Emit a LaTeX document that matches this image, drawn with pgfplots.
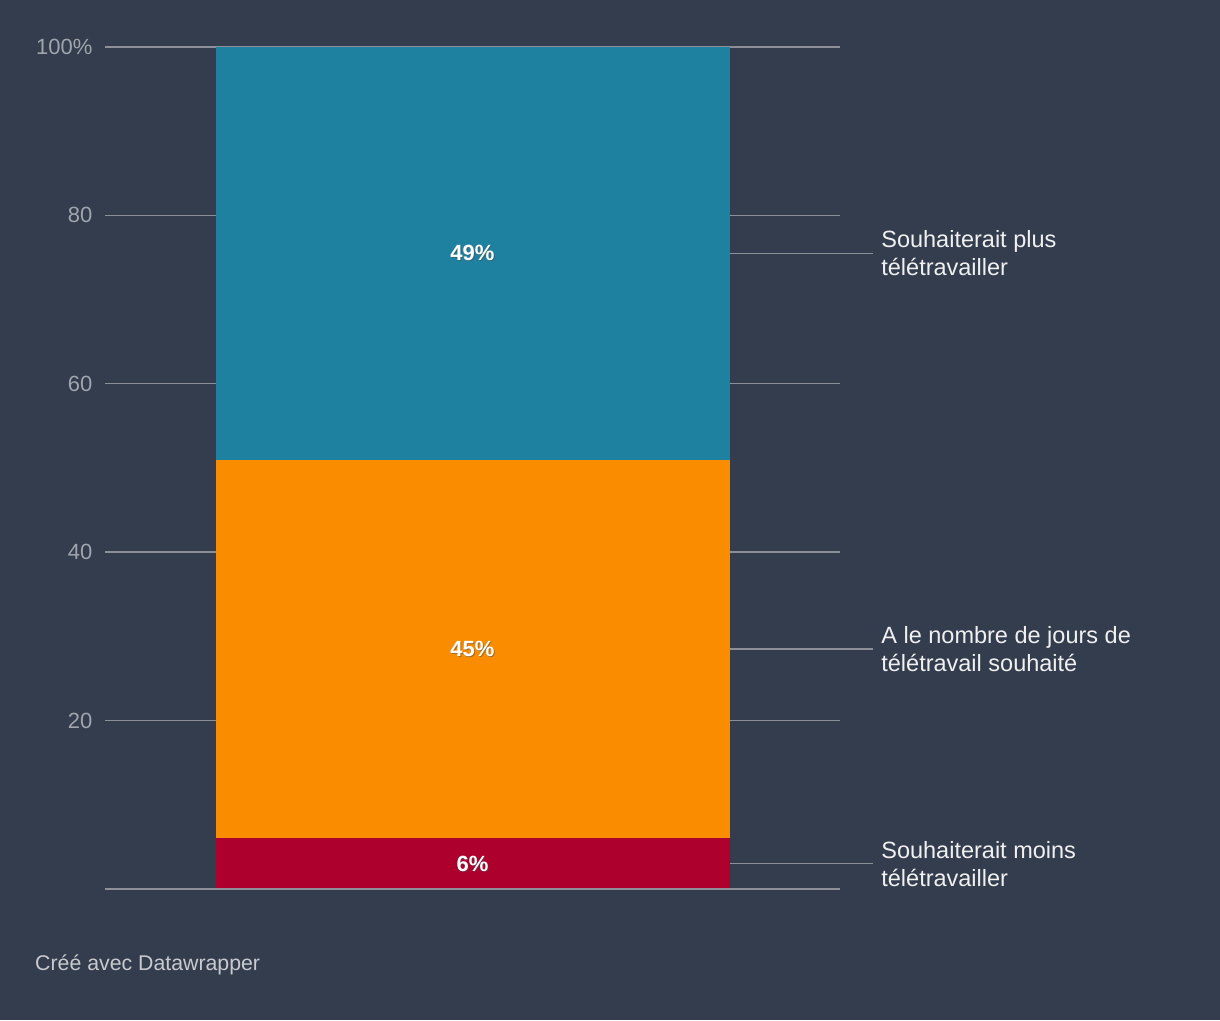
\documentclass[border=0pt]{standalone}
\usepackage{pgfplots}
\pgfplotsset{compat=1.18}
\usepackage{fontspec}
\setmainfont{Liberation Sans}
\definecolor{bg}{RGB}{52,61,78}
\definecolor{cblue}{RGB}{31,129,160}
\definecolor{corange}{RGB}{250,140,0}
\definecolor{cred}{RGB}{173,0,45}
\definecolor{cgrid}{RGB}{140,144,152}
\definecolor{ctick}{RGB}{160,164,172}
\definecolor{ctext}{RGB}{240,240,240}
\definecolor{cfoot}{RGB}{200,202,206}
\begin{document}
\begin{tikzpicture}[x=1pt,y=1pt]
\fill[bg] (0,0) rectangle (1220,1020);
\begin{axis}[
  at={(105pt,131pt)}, anchor=origin,
  scale only axis, width=735pt, height=842pt,
  xmin=0, xmax=1, ymin=0, ymax=100,
  axis line style={draw=none},
  xtick=\empty,
  ytick={0,20,40,60,80,100},
  yticklabels={,20,40,60,80,100\%},
  major tick length=0pt,
  yticklabel style={font=\fontsize{22}{26}\selectfont, text=ctick, xshift=-9pt},
  ymajorgrids,
  grid style={draw=cgrid, line width=1.4pt},
  ybar stacked, bar width=514pt,
  clip=false,
]
\addplot[fill=cred, draw=none] coordinates {(0.5,6)};
\addplot[fill=corange, draw=none] coordinates {(0.5,45)};
\addplot[fill=cblue, draw=none] coordinates {(0.5,49)};
\end{axis}
\begin{axis}[
  at={(105pt,131pt)}, anchor=origin,
  scale only axis, width=735pt, height=842pt,
  xmin=0, xmax=1, ymin=0, ymax=100,
  hide axis, clip=false,
]
\addplot[draw=none, forget plot] coordinates {(0,0)};
\draw[cgrid, line width=1.4pt] (axis cs:0,0) -- (axis cs:1,0);
\begin{scope}[font=\bfseries\fontsize{22}{26}\selectfont]
\node[text=black!70, opacity=0.5] at ([shift={(1pt,-1pt)}]axis cs:0.5,75.5) {49\%};
\node[text=white] at (axis cs:0.5,75.5) {49\%};
\node[text=black!70, opacity=0.5] at ([shift={(1pt,-1pt)}]axis cs:0.5,28.5) {45\%};
\node[text=white] at (axis cs:0.5,28.5) {45\%};
\node[text=black!70, opacity=0.5] at ([shift={(1pt,-1pt)}]axis cs:0.5,3) {6\%};
\node[text=white] at (axis cs:0.5,3) {6\%};
\end{scope}
\draw[cgrid, line width=1.4pt] (axis cs:0.8503,75.5) -- (axis cs:1.045,75.5);
\draw[cgrid, line width=1.4pt] (axis cs:0.8503,28.5) -- (axis cs:1.045,28.5);
\draw[cgrid, line width=1.4pt] (axis cs:0.8503,3) -- (axis cs:1.045,3);
\node[anchor=west, align=left, text=ctext, font=\fontsize{23.5}{28}\selectfont, inner sep=0pt] at (axis cs:1.056,75.5) {Souhaiterait plus\\télétravailler};
\node[anchor=west, align=left, text=ctext, font=\fontsize{23.5}{28}\selectfont, inner sep=0pt] at (axis cs:1.056,28.5) {A le nombre de jours de\\télétravail souhaité};
\node[anchor=west, align=left, text=ctext, font=\fontsize{23.5}{28}\selectfont, inner sep=0pt] at (axis cs:1.056,3) {Souhaiterait moins\\télétravailler};
\end{axis}
\node[anchor=base west, text=cfoot, font=\fontsize{21.3}{25}\selectfont, inner sep=0pt] at (35,50) {Créé avec Datawrapper};
\end{tikzpicture}
\end{document}
